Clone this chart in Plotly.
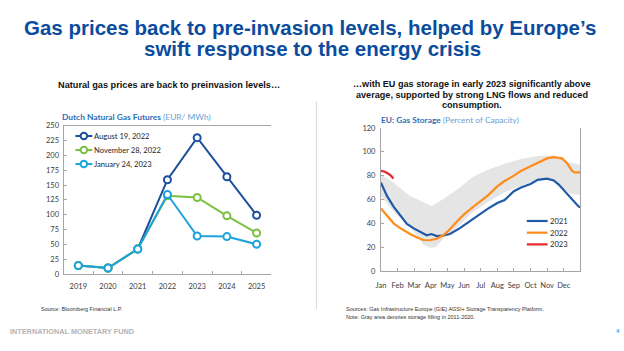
import plotly.graph_objects as go

W, H = 624, 351

# ---------------- Data: left chart (Dutch natural gas futures, EUR/MWh)
years = ["2019", "2020", "2021", "2022", "2023", "2024", "2025"]
aug19_2022 = [14, 10, 42, 159, 230, 164, 99]
nov28_2022 = [14, 10, 42, 132, 129, 98, 69]
jan24_2023 = [14, 10, 42, 134, 64, 63, 50]

# ---------------- Data: right chart (EU gas storage, % of capacity); x = months since Jan 1
month_labels = ["Jan", "Feb", "Mar", "Apr", "May", "Jun", "Jul", "Aug", "Sep", "Oct", "Nov", "Dec"]

band_hi_m = [0, 0.76, 1.75, 2.75, 3.05, 3.75, 4.75, 5.44, 5.74, 6.44, 7.44, 8.43, 9.43, 10.4, 11.2, 12]
band_hi_v = [81, 74, 63, 56.4, 54.5, 60.5, 70, 78, 80.5, 85, 90, 94, 96.5, 97, 92, 89]
band_lo_m = [0, 0.76, 1.75, 2.15, 2.55, 2.95, 3.3, 3.75, 4.75, 5.5, 6.44, 7.44, 8.43, 9.43, 10.0, 10.4, 11.4, 12]
band_lo_v = [63, 50, 37, 29, 22, 19.5, 20, 27, 38.7, 49, 58, 66, 71.5, 77, 78, 75.5, 64.6, 64]

s2021_m = [0, 0.36, 0.76, 1.16, 1.56, 1.95, 2.35, 2.75, 3.05, 3.35, 3.75, 4.15, 4.75, 5.44, 5.74, 6.0,
           6.44, 7.0, 7.44, 8.0, 8.43, 9.0, 9.43, 10.0, 10.4, 10.7, 11.0, 11.2, 11.6, 11.9, 12]
s2021_v = [74, 63, 54, 47, 39.5, 36, 32.7, 30, 31, 29.3, 29.8, 31, 36, 42.8, 45.5, 48.5,
           52.4, 57, 59.5, 67, 70, 73, 76.5, 77.5, 76, 72.5, 68, 65, 58.5, 54, 53.5]

s2022_m = [0, 0.36, 0.76, 1.16, 1.75, 2.15, 2.55, 2.95, 3.35, 3.75, 4.0, 4.75, 5.0, 5.74, 6.0, 6.44,
           7.0, 7.44, 8.0, 8.43, 9.0, 9.43, 10.0, 10.4, 10.9, 11.2, 11.5, 11.7, 12]
s2022_v = [52.5, 47, 40, 36, 31, 28.4, 26, 25.8, 27, 30, 33, 44, 47.5, 56, 59, 63.5,
           71, 75.5, 80, 84, 88, 91, 94.5, 95.5, 94.5, 90.5, 84, 82.5, 83]

s2023_m = [0, 0.2, 0.4, 0.6, 0.75]
s2023_v = [84, 83.5, 82, 80, 77.5]

left_names = ["August 19, 2022", "November 28, 2022", "January 24, 2023"]
right_names = ["2021", "2022", "2023"]

# ---------------- Styling
TITLE_BLUE = "#0b4c9e"
C_AUG, C_NOV, C_JAN = "#1b4f9c", "#7ac143", "#1ca3dc"
C_21, C_22, C_23 = "#1f5aa6", "#ff8c1a", "#e8262b"
AX = "#a6a6a6"
BAND = "#e5e5e5"
CHARTFONT = "Lato, Open Sans, sans-serif"
TICKF = dict(family=CHARTFONT, size=7.5, color="#404040")


def px(x):
    return x / W


def py(y):
    return 1 - y / H


fig = go.Figure()

left_series = [aug19_2022, nov28_2022, jan24_2023]
left_colors = [C_AUG, C_NOV, C_JAN]
for name, vals, col in zip(left_names, left_series, left_colors):
    fig.add_trace(go.Scatter(
        x=years, y=vals, name=name, mode="lines+markers",
        line=dict(color=col, width=2),
        marker=dict(size=7, color="white", line=dict(color=col, width=2)),
        xaxis="x", yaxis="y", showlegend=False))

# band (2011-2020 range)
fig.add_trace(go.Scatter(x=band_hi_m, y=band_hi_v, mode="lines", line=dict(width=0, color=BAND),
                         showlegend=False, hoverinfo="skip", xaxis="x2", yaxis="y3"))
fig.add_trace(go.Scatter(x=band_lo_m, y=band_lo_v, mode="lines", line=dict(width=0, color=BAND),
                         fill="tonexty", fillcolor=BAND,
                         showlegend=False, hoverinfo="skip", xaxis="x2", yaxis="y3"))
right_series = [(s2021_m, s2021_v), (s2022_m, s2022_v), (s2023_m, s2023_v)]
right_colors = [C_21, C_22, C_23]
for name, (mm, vv), col in zip(right_names, right_series, right_colors):
    fig.add_trace(go.Scatter(x=mm, y=vv, name=name, mode="lines", line=dict(color=col, width=2.2),
                             xaxis="x2", yaxis="y3", showlegend=False))

axcommon = dict(showline=True, linecolor=AX, linewidth=1, showgrid=False, zeroline=False,
                ticks="inside", ticklen=3, tickcolor=AX, tickfont=TICKF)

fig.update_layout(
    width=W, height=H, margin=dict(l=0, r=0, t=0, b=0),
    paper_bgcolor="white", plot_bgcolor="white", showlegend=False,
    xaxis=dict(domain=[px(59), px(268.5)], anchor="y", type="category",
               tickson="boundaries", mirror=True, ticklabelstandoff=5, **axcommon),
    yaxis=dict(domain=[py(277), py(125)], anchor="x", range=[0, 250], dtick=25,
               ticklabelstandoff=2, **axcommon),
    yaxis2=dict(overlaying="y", anchor="x", side="right", range=[0, 250], dtick=25,
                ticklabelstandoff=2, **axcommon),
    xaxis2=dict(domain=[px(379), px(580)], anchor="y3", range=[0, 12],
                tickvals=list(range(12)), ticktext=month_labels, ticklabelstandoff=7, **axcommon),
    yaxis3=dict(domain=[py(274), py(127.3)], anchor="x2", range=[0, 120], dtick=20, mirror=True,
                ticklabelstandoff=3, **axcommon),
)

ann = []
shapes = []


def text(x, y, s, size, color="#000000", family="Liberation Sans, Arial, sans-serif",
         xanchor="center", yanchor="middle"):
    ann.append(dict(x=px(x), y=py(y), xref="paper", yref="paper", text=s, showarrow=False,
                    xanchor=xanchor, yanchor=yanchor, borderpad=0,
                    font=dict(size=size, color=color, family=family)))


# titles
text(307, 24, "<b>Gas prices back to pre-invasion levels, helped by Europe’s</b>", 20.5, TITLE_BLUE)
text(310, 46, "<b>swift response to the energy crisis</b>", 20.5, TITLE_BLUE)

SUB = "Liberation Sans, Arial, sans-serif"
text(165, 83, "<b>Natural gas prices are back to preinvasion levels…</b>", 9.2, "#111111", SUB)
text(471, 82, "<b>…with EU gas storage in early 2023 significantly above</b>", 9.1, "#111111", SUB)
text(471, 93, "<b>average, supported by strong LNG flows and reduced</b>", 9.1, "#111111", SUB)
text(471, 104, "<b>consumption.</b>", 9.1, "#111111", SUB)

text(56, 116, "<b>Dutch Natural Gas Futures</b> <span style='color:#6a9fd4'>(EUR/ MWh)</span>", 8.4,
     "#2f6eb5", CHARTFONT, xanchor="left")
text(378, 119, "<b>EU: Gas Storage</b> <span style='color:#6a9fd4'>(Percent of Capacity)</span>", 8.4,
     "#2f6eb5", CHARTFONT, xanchor="left")

# legends (left)
for i, (name, col) in enumerate(zip(left_names, left_colors)):
    yy = 135.5 + 14.4 * i
    shapes.append(dict(type="line", xref="paper", yref="paper", x0=px(71), x1=px(88), y0=py(yy), y1=py(yy),
                       line=dict(color=col, width=2)))
    shapes.append(dict(type="circle", xref="paper", yref="paper", x0=px(79.5 - 3.3), x1=px(79.5 + 3.3),
                       y0=py(yy + 3.3), y1=py(yy - 3.3), fillcolor="white", line=dict(color=col, width=2)))
    text(89, yy, name, 7.6, "#262626", CHARTFONT, xanchor="left")

# legends (right)
for i, (name, col) in enumerate(zip(right_names, right_colors)):
    yy = 222.7 + 12 * i
    shapes.append(dict(type="line", xref="paper", yref="paper", x0=px(526), x1=px(547), y0=py(yy), y1=py(yy),
                       line=dict(color=col, width=2.2)))
    text(548, yy, name, 7.6, "#262626", CHARTFONT, xanchor="left")

text(35, 313, "Source: Bloomberg Financial L.P.", 5.5, "#333333", xanchor="left")
text(343, 313, "Sources: Gas Infrastructure Europe (GIE) AGSI+ Storage Transparency Platform.", 5.5,
     "#333333", xanchor="left")
text(343, 321, "Note: Gray area denotes storage filling in 2011-2020.", 5.5, "#333333", xanchor="left")

text(4, 336, "<b>INTERNATIONAL MONETARY FUND</b>", 7.3, "#b3b3b3", xanchor="left")
text(618, 336, "<b>4</b>", 6, "#4aa3df")

shapes.append(dict(type="line", xref="paper", yref="paper", x0=px(314), x1=px(314),
                   y0=py(100), y1=py(313), line=dict(color="#d9d9d9", width=1)))

fig.update_layout(annotations=ann, shapes=shapes)

fig.write_html("out.html")
